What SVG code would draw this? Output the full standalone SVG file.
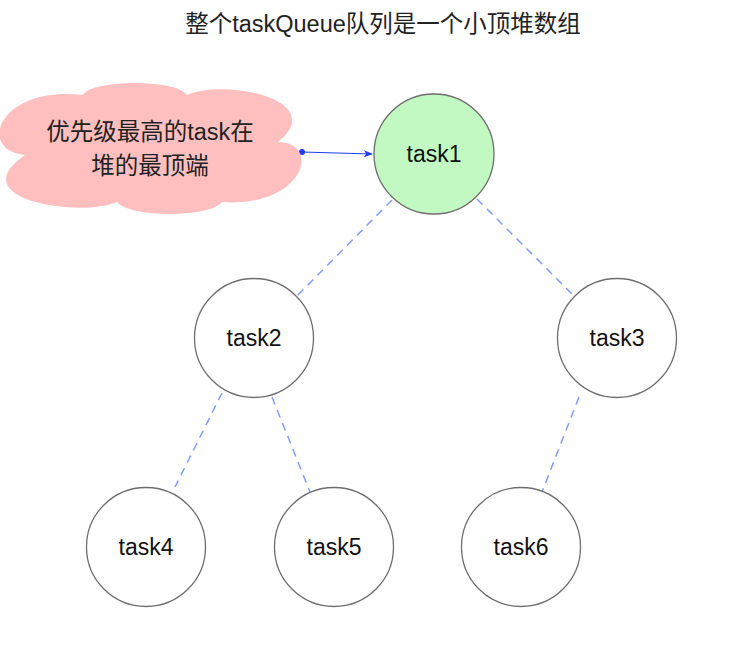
<svg xmlns="http://www.w3.org/2000/svg" width="746" height="646" viewBox="0 0 746 646">
<style>
.txt{font-family:"Liberation Sans","Noto Sans CJK SC",Arial,sans-serif;font-size:23px;fill:#111;text-anchor:middle}
.cjk{font-family:"Liberation Sans","Noto Sans CJK SC",sans-serif;font-size:23.5px;fill:#222;text-anchor:middle}
.node{fill:#ffffff;stroke:#6e6e6e;stroke-width:1.3}
.dash{stroke:#809dff;stroke-width:1.5;stroke-dasharray:8 6;fill:none}
</style>
<defs>
<marker id="arr" viewBox="0 0 10 10" refX="9" refY="5" markerWidth="9" markerHeight="9" markerUnits="userSpaceOnUse" orient="auto">
<path d="M0,1 L10,5 L0,9 L2.5,5 Z" fill="#1f3cff"/>
</marker>
</defs>
<rect width="746" height="646" fill="#ffffff"/>
<text class="cjk" x="383" y="32">整个taskQueue队列是一个小顶堆数组</text>
<g id="connectors">
<line class="dash" x1="392" y1="200" x2="297" y2="296"/>
<line class="dash" x1="477" y1="199" x2="574" y2="296"/>
<line class="dash" x1="222" y1="393" x2="175" y2="487"/>
<line class="dash" x1="272" y1="397" x2="310" y2="492"/>
<line class="dash" x1="579" y1="397" x2="542" y2="492"/>
<line x1="302" y1="152" x2="372" y2="154" stroke="#1f3cff" stroke-width="1.2" marker-end="url(#arr)"/>
<circle cx="302" cy="152" r="3" fill="#1f3cff"/>
</g>
<g id="cloud">
<path d="M83,95 C90,80 175,78 187,95 C225,78 330,100 278,142 C322,142 305,208 222,202 C210,218 130,218 117,202 C80,218 -40,200 25,155 C-25,150 0,85 83,95 Z" fill="#ffbfbf"/>
<text class="cjk" x="150" y="140">优先级最高的task在</text>
<text class="cjk" x="150" y="174">堆的最顶端</text>
</g>
<g id="task1">
<circle cx="434" cy="154" r="60" fill="#c2f8c2" stroke="#6e6e6e" stroke-width="1.3"/>
<text class="txt" x="434" y="162">task1</text>
</g>
<g id="task2">
<circle class="node" cx="254" cy="338" r="59.5"/>
<text class="txt" x="254" y="346">task2</text>
</g>
<g id="task3">
<circle class="node" cx="617" cy="338" r="59.5"/>
<text class="txt" x="617" y="346">task3</text>
</g>
<g id="task4">
<circle class="node" cx="146" cy="547" r="59.5"/>
<text class="txt" x="146" y="555">task4</text>
</g>
<g id="task5">
<circle class="node" cx="334" cy="547" r="59.5"/>
<text class="txt" x="334" y="555">task5</text>
</g>
<g id="task6">
<circle class="node" cx="521" cy="547" r="59.5"/>
<text class="txt" x="521" y="555">task6</text>
</g>
</svg>
